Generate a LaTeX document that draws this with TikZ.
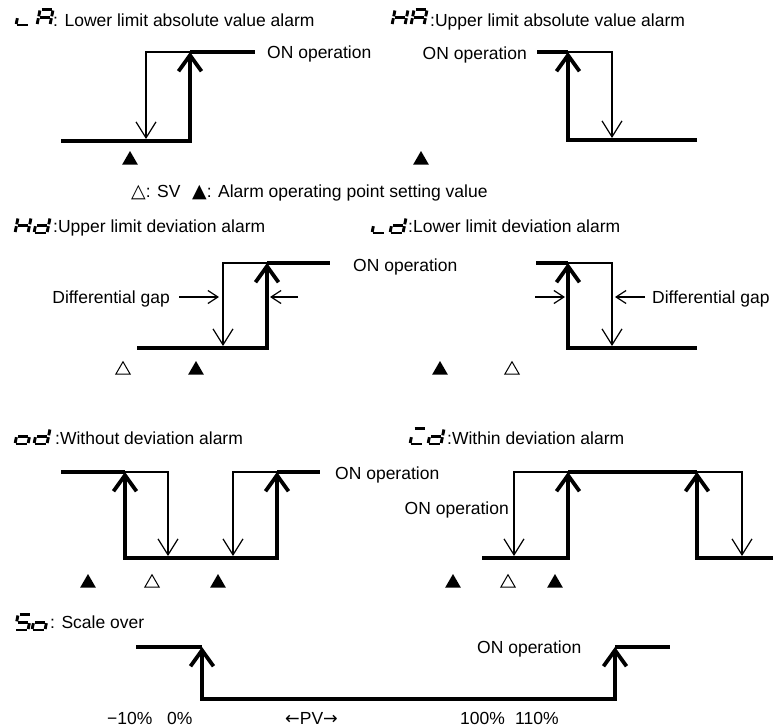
\documentclass[tikz,border=0pt]{standalone}
\usepackage{fontspec}
\setmainfont{Liberation Sans}
\newfontfamily\dejavu{DejaVu Sans}
\usetikzlibrary{arrows.meta,shapes.geometric}
\def\zsga{(1.4,15.5)--(11.6,15.5)}
\def\zsgb{(13,14.5)--(13,8.7)}
\def\zsgc{(13,6.8)--(13,1)}
\def\zsgd{(1.4,0)--(11.6,0)}
\def\zsge{(0,1)--(0,6.8)}
\def\zsgf{(0,8.7)--(0,14.5)}
\def\zsgg{(1.4,7.75)--(11.6,7.75)}
\newcommand\segglyph[2]{%
  \begin{scope}[shift={#1},xslant=0.2,yscale=-1]
    \foreach \s in {#2}{\draw[segline] \csname zsg\s\endcsname;}
  \end{scope}}
\tikzset{
  segline/.style={line width=2.9pt,line cap=butt},
  txt/.style={inner sep=0pt,anchor=base west,font=\fontsize{17.5}{20}\selectfont},
  txtE/.style={txt,anchor=base east},
  thickln/.style={line width=3.8pt},
  thinln/.style={line width=1.2pt},
  bigtip/.style={-{Straight Barb[length=16pt,width=23pt]}},
  bigtips/.style={{Straight Barb[length=16pt,width=23pt]}-{Straight Barb[length=16pt,width=23pt]}},
  thintip/.style={-{Straight Barb[length=16pt,width=20pt]}},
  gaptip/.style={-{Straight Barb[length=10pt,width=13pt]}},
  btri/.style={regular polygon,regular polygon sides=3,fill=black,inner sep=0pt,minimum size=18pt},
  wtri/.style={regular polygon,regular polygon sides=3,draw=black,fill=white,line width=1pt,inner sep=0pt,minimum size=16.5pt},
  trich/.style={font=\dejavu\fontsize{20}{20}\selectfont}
}
\begin{document}
\begin{tikzpicture}[x=1pt,y=-1pt]
\useasboundingbox (0,0) rectangle (780,728);
\fill[white] (0,0) rectangle (780,728);

% ---------- LA
\segglyph{(16,25)}{e,d}
\segglyph{(37,25)}{a,b,c,e,f,g}
\node[txt] (tLA) at (53,26) {: Lower limit absolute value alarm};
\draw[thickln,bigtip] (61,141) -- (190,141) -- (190,52);
\draw[thickln] (190,52) -- (255,52);
\draw[thinln,thintip] (190,52) -- (146,52) -- (146,139);
\node[txt] (onLA) at (267,58) {ON operation};
\node[btri] (mLA) at (130,160) {};

% ---------- HA
\segglyph{(392,25)}{b,c,e,f,g}
\segglyph{(411,25)}{a,b,c,e,f,g}
\node[txt] (tHA) at (430,26) {:Upper limit absolute value alarm};
\draw[thickln] (537,52) -- (568,52);
\draw[thickln,bigtip] (697,140) -- (568,140) -- (568,52);
\draw[thinln,thintip] (568,52) -- (612,52) -- (612,138);
\node[txtE] (onHA) at (527,59) {ON operation};
\node[btri] (mHA) at (421,160) {};

% ---------- legend
\node[txt] (lg1) at (131,197) {{\dejavu\fontsize{19}{20}\selectfont △}: SV};
\node[txt] (lg2) at (192,197) {{\dejavu\fontsize{19}{20}\selectfont ▲}: Alarm operating point setting value};

% ---------- Hd
\segglyph{(15,233)}{b,c,e,f,g}
\segglyph{(34,233)}{b,c,d,e,g}
\node[txt] (tHd) at (53,232) {:Upper limit deviation alarm};
\draw[thickln,bigtip] (137,348) -- (267,348) -- (267,263);
\draw[thickln] (267,263) -- (330,263);
\draw[thinln,thintip] (267,263) -- (223,263) -- (223,346);
\coordinate (g1s) at (179,297);
\coordinate (g1e) at (219,297);
\coordinate (g2s) at (298,297);
\coordinate (g2e) at (270,297);
\draw[thinln,gaptip] (g1s) -- (g1e);
\draw[thinln,gaptip] (g2s) -- (g2e);
\node[txtE] (dgHd) at (170,303) {Differential gap};
\node[txt] (onHd) at (353,271) {ON operation};
\node[wtri] (sHd) at (123,370) {};
\node[btri] (mHd) at (196,370) {};

% ---------- Ld
\segglyph{(372,233)}{e,d}
\segglyph{(390,233)}{b,c,d,e,g}
\node[txt] (tLd) at (408,232) {:Lower limit deviation alarm};
\draw[thickln] (536,263) -- (568,263);
\draw[thickln,bigtip] (697,348) -- (568,348) -- (568,263);
\draw[thinln,thintip] (568,263) -- (612,263) -- (612,346);
\coordinate (g3s) at (535,297);
\coordinate (g3e) at (565,297);
\coordinate (g4s) at (645,297);
\coordinate (g4e) at (615,297);
\draw[thinln,gaptip] (g3s) -- (g3e);
\draw[thinln,gaptip] (g4s) -- (g4e);
\node[txt] (dgLd) at (652,303) {Differential gap};
\node[btri] (mLd) at (440,370) {};
\node[wtri] (sLd) at (512,370) {};

% ---------- od
\segglyph{(15,444)}{c,d,e,g}
\segglyph{(34,444)}{b,c,d,e,g}
\node[txt] (tod) at (55,444) {:Without deviation alarm};
\draw[thickln] (61,472) -- (125,472);
\draw[thickln,bigtips] (125,472) -- (125,558) -- (277,558) -- (277,472);
\draw[thickln] (277,472) -- (320,472);
\draw[thinln,thintip] (125,472) -- (168,472) -- (168,556);
\draw[thinln,thintip] (277,472) -- (233,472) -- (233,556);
\node[txt] (onod) at (335,479) {ON operation};
\node[btri] (mod1) at (88,583) {};
\node[wtri] (sod) at (152,583) {};
\node[btri] (mod2) at (218,583) {};

% ---------- Cd
\segglyph{(410,444)}{a,e,d}
\segglyph{(428,444)}{b,c,d,e,g}
\node[txt] (tCd) at (447,444) {:Within deviation alarm};
\draw[thickln,bigtip] (482,558) -- (568,558) -- (568,472);
\draw[thickln] (568,472) -- (697,472);
\draw[thickln,bigtip] (773,558) -- (697,558) -- (697,472);
\draw[thinln,thintip] (568,472) -- (514,472) -- (514,556);
\draw[thinln,thintip] (697,472) -- (742,472) -- (742,556);
\node[txtE] (onCd) at (509,514) {ON operation};
\node[btri] (mCd1) at (453,583) {};
\node[wtri] (sCd) at (508,583) {};
\node[btri] (mCd2) at (555,583) {};

% ---------- So
\segglyph{(15,630)}{a,f,g,c,d}
\segglyph{(32,630)}{c,d,e,g}
\node[txt] (tSo) at (50,628) {: Scale over};
\draw[thickln] (136,647) -- (202,647);
\draw[thickln,bigtips] (202,647) -- (202,699) -- (615,699) -- (615,647);
\draw[thickln] (615,647) -- (670,647);
\node[txt] (onSo) at (477,653) {ON operation};
\node[txt] (p1) at (107,724) {−10\%};
\node[txt] (p2) at (167,724) {0\%};
\node[txt] (p3) at (285,724) {{\dejavu ←}PV{\dejavu →}};
\node[txt] (p4) at (460,724) {100\%};
\node[txt] (p5) at (515,724) {110\%};
\end{tikzpicture}
\end{document}
